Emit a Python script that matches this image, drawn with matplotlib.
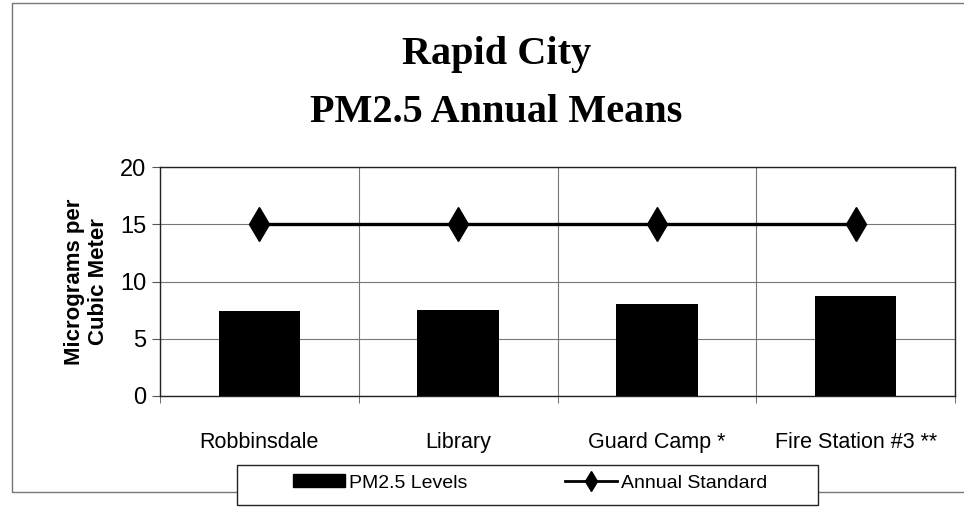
import numpy as np
import matplotlib
matplotlib.use("Agg")
import matplotlib.pyplot as plt
from matplotlib.patches import Rectangle
from matplotlib.lines import Line2D

sites = ["Robbinsdale", "Library", "Guard Camp *", "Fire Station #3 **"]
pm25_levels = [7.4, 7.5, 8.0, 8.7]
annual_standard = [15, 15, 15, 15]
yticks = [0, 5, 10, 15, 20]

plt.rcParams['font.family'] = ['Liberation Sans', 'DejaVu Sans']

fig = plt.figure(figsize=(9.64, 5.08), dpi=100)
ax = fig.add_axes([160 / 964, 1 - 396 / 508, 795 / 964, 229 / 508])

x = np.arange(len(sites))
ax.bar(x, pm25_levels, width=0.41, color="black", zorder=3, label="PM2.5 Levels")
ax.plot(x, annual_standard, color="black", lw=2.4, marker="d", markersize=17,
        zorder=4, label="Annual Standard")

ax.set_xlim(-0.5, len(sites) - 0.5)
ax.set_ylim(0, 20)
ax.set_yticks(yticks)
ax.set_yticklabels([str(t) for t in yticks], fontsize=17)
ax.set_xticks(x)
ax.set_xticklabels(sites, fontsize=15.5)
ax.set_xticks(np.arange(len(sites) + 1) - 0.5, minor=True)
ax.tick_params(axis="x", which="major", length=0, pad=26)
ax.tick_params(axis="x", which="minor", length=5, color="#555555")
ax.tick_params(axis="y", length=6, color="#555555", pad=4)

ax.grid(True, which="minor", axis="x", color="#777777", lw=0.8)
ax.grid(True, which="major", axis="y", color="#777777", lw=0.8)
ax.set_axisbelow(True)
for s in ax.spines.values():
    s.set_color("#222222")
    s.set_linewidth(1.0)

ax.set_ylabel("Micrograms per\nCubic Meter", fontsize=16, fontweight="bold",
              labelpad=8, linespacing=1.2)

fig.text(0.515, 1 - 64 / 508, "Rapid City", ha="center", va="baseline",
         family="Liberation Serif", fontweight="bold", fontsize=29)
fig.text(0.515, 1 - 122 / 508, "PM2.5 Annual Means", ha="center", va="baseline",
         family="Liberation Serif", fontweight="bold", fontsize=29)

# outer chart border
fig.patches.append(Rectangle((12 / 964, 1 - 492 / 508), 1.0, 489 / 508,
                             transform=fig.transFigure, fill=False,
                             edgecolor="#777777", lw=1.0, zorder=0))

# legend box
fig.patches.append(Rectangle((237 / 964, 1 - 505 / 508), 581 / 964, 40 / 508,
                             transform=fig.transFigure, facecolor="white",
                             edgecolor="#222222", lw=1.0, zorder=5))
handles = [Rectangle((0, 0), 1, 1, color="black"),
           Line2D([], [], color="black", lw=2, marker="d", markersize=10)]
leg = fig.legend(handles, ["PM2.5 Levels", "Annual Standard"], ncol=2,
                 loc="center", bbox_to_anchor=(530 / 964, 1 - 483 / 508),
                 fontsize=14, frameon=False, handlelength=2.7,
                 handleheight=0.6, handletextpad=0.2, columnspacing=5.0,
                 borderpad=0)
leg.set_zorder(6)

fig.savefig("out.png", dpi=100, facecolor="white")
